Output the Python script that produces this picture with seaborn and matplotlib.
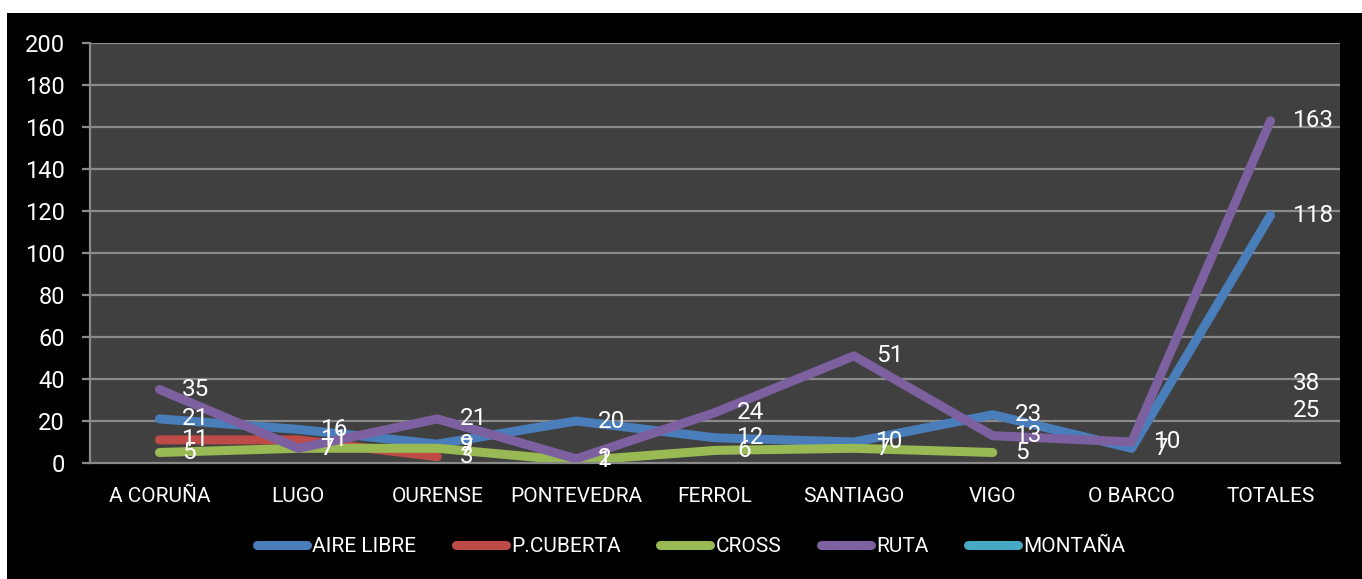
import numpy as np
import pandas as pd
import matplotlib
matplotlib.use("Agg")
import matplotlib.pyplot as plt
import seaborn as sns
from matplotlib.lines import Line2D
from matplotlib.patches import Rectangle
from matplotlib.ticker import FixedLocator, MultipleLocator

# datos
categorias = ["A CORUÑA", "LUGO", "OURENSE", "PONTEVEDRA", "FERROL",
              "SANTIAGO", "VIGO", "O BARCO", "TOTALES"]
aire_libre = [21, 16, 9, 20, 12, 10, 23, 7, 118]
p_cuberta = [11, 11, 3, None, None, None, None, None, 25]
cross = [5, 7, 7, 1, 6, 7, 5, None, 38]
ruta = [35, 7, 21, 2, 24, 51, 13, 10, 163]
montana = [None, None, None, None, None, None, None, None, None]

series = ["AIRE LIBRE", "P.CUBERTA", "CROSS", "RUTA", "MONTAÑA"]
valores = [aire_libre, p_cuberta, cross, ruta, montana]
colores = {"AIRE LIBRE": "#4a7ebb", "P.CUBERTA": "#be4b48", "CROSS": "#98b954",
           "RUTA": "#7d60a0", "MONTAÑA": "#46aac5"}

# tabla larga; cada tramo sin huecos es una unidad (Excel corta la línea en celdas vacías)
filas = []
for nombre, vals in zip(series, valores):
    tramo = 0
    for i, v in enumerate(vals):
        if v is None:
            tramo += 1
            continue
        filas.append({"serie": nombre, "pos": i, "valor": v, "tramo": f"{nombre}-{tramo}"})
df = pd.DataFrame(filas)

sns.set_style("dark")
plt.rcParams["font.family"] = ["Roboto", "DejaVu Sans"]

fig = plt.figure(figsize=(13.62, 5.79), dpi=100, facecolor="white")
fig.patches.append(Rectangle((7 / 1362, 0), 1, (579 - 13) / 579, transform=fig.transFigure,
                             facecolor="black", edgecolor="none", zorder=-10))
ax = fig.add_axes([90 / 1362, 116 / 579, 1250 / 1362, 420 / 579])
ax.set_facecolor("#404040")

grid_col = "#8a8a8a"
for y in range(20, 201, 20):
    ax.axhline(y, color=grid_col, lw=1.6, zorder=0)

sns.lineplot(data=df, x="pos", y="valor", hue="serie", hue_order=series, palette=colores,
             units="tramo", estimator=None, sort=False, linewidth=6.5, legend=False,
             solid_capstyle="round", solid_joinstyle="round", ax=ax)

# etiquetas de datos a la derecha de cada punto
for nombre, vals in zip(series, valores):
    for i, v in enumerate(vals):
        if v is None:
            continue
        ax.annotate(str(v), (i, v), xytext=(16, 0), textcoords="offset points",
                    ha="left", va="center", color="white", fontsize=17.5, zorder=5)

ax.set_xlim(-0.5, len(categorias) - 0.5)
ax.set_ylim(0, 200)
ax.yaxis.set_major_locator(MultipleLocator(20))
ax.set_xticks(range(len(categorias)))
ax.set_xticklabels(categorias, fontsize=15, color="white")
ax.xaxis.set_minor_locator(FixedLocator(np.arange(-0.5, len(categorias), 1)))
ax.tick_params(axis="x", which="major", length=0, pad=17)
ax.tick_params(axis="x", which="minor", length=6, width=1.6, color=grid_col, direction="out")
ax.tick_params(axis="y", length=6, width=1.6, color=grid_col, pad=12,
               labelsize=17, labelcolor="white", left=True)
ax.set_xlabel("")
ax.set_ylabel("")
ax.grid(False)
for lado in ["top", "right"]:
    ax.spines[lado].set_visible(False)
for lado in ["left", "bottom"]:
    ax.spines[lado].set_visible(True)
    ax.spines[lado].set_color(grid_col)
    ax.spines[lado].set_linewidth(1.6)

handles = [Line2D([0], [0], color=colores[s], lw=6.5, solid_capstyle="round") for s in series]
leg = fig.legend(handles, series, loc="center", bbox_to_anchor=(691 / 1362, 1 - 547 / 579),
                 ncol=5, frameon=False, handlelength=2.4, handletextpad=0.25,
                 columnspacing=1.9, prop={"size": 15})
for t in leg.get_texts():
    t.set_color("white")

fig.savefig("out.png", dpi=100, facecolor=fig.get_facecolor())
